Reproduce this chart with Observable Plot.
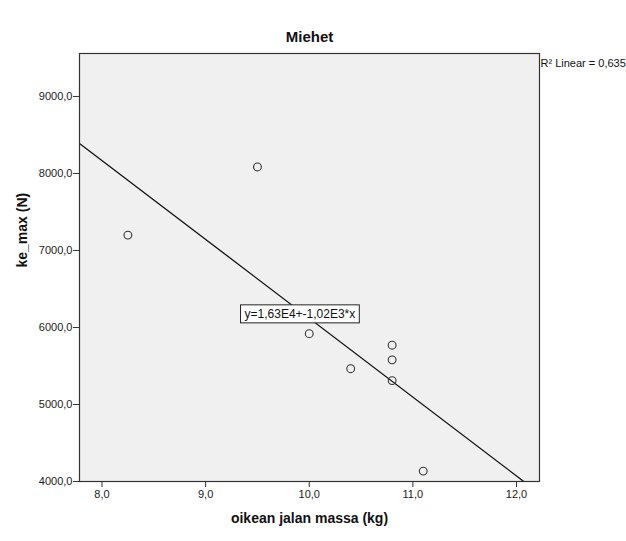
<!DOCTYPE html>
<html>
<head>
<meta charset="utf-8">
<script src="https://cdn.jsdelivr.net/npm/d3@7"></script>
<script src="https://cdn.jsdelivr.net/npm/@observablehq/plot@0.6"></script>
<style>
  body { margin: 0; background: #fff; }
  svg { font-family: "Liberation Sans", Arial, sans-serif; }
</style>
</head>
<body>
<div id="chart"></div>
<script>
// Data
const massKg = [8.25, 9.5, 10.0, 10.4, 10.8, 10.8, 10.8, 11.1];
const keMaxN = [7200, 8085, 5920, 5465, 5770, 5580, 5310, 4135];
const fitIntercept = 16360;   // shown as 1,63E4
const fitSlope = -1024;       // shown as -1,02E3
const xTicks = [8, 9, 10, 11, 12];
const yTicks = [4000, 5000, 6000, 7000, 8000, 9000];
const xDomain = [7.783, 12.222];
const yDomain = [4000, 9558];
const titleText = "Miehet";
const xLabel = "oikean jalan massa (kg)";
const yLabel = "ke_max (N)";
const r2Text = "R² Linear = 0,635";
const eqText = "y=1,63E4+-1,02E3*x";
const eqPos = [{x: 9.91, y: 6175}];

const points = massKg.map((m, i) => ({x: m, y: keMaxN[i]}));
const fitLine = xDomain.map(x => ({x, y: fitIntercept + fitSlope * x}));
const fmt = d => d.toFixed(1).replace(".", ",");

const chart = Plot.plot({
  width: 626,
  height: 541,
  marginLeft: 79,
  marginRight: 87,
  marginTop: 53,
  marginBottom: 60,
  style: {fontFamily: "Liberation Sans, Arial, sans-serif", background: "#fff", color: "#222"},
  x: {domain: xDomain, label: null},
  y: {domain: yDomain, label: null},
  marks: [
    Plot.frame({fill: "#f0f0f0", stroke: null}),
    Plot.axisX({ticks: xTicks, tickFormat: fmt, tickSize: 6, tickPadding: 3, fontSize: 11, stroke: "#333", fill: "#222"}),
    Plot.axisY({ticks: yTicks, tickFormat: fmt, tickSize: 6, tickPadding: 1, fontSize: 11, stroke: "#333", fill: "#222"}),
    Plot.line(fitLine, {x: "x", y: "y", stroke: "#111", strokeWidth: 1.3, clip: true}),
    Plot.dot(points, {x: "x", y: "y", r: 3.9, stroke: "#333", strokeWidth: 1.1, fill: "none"}),
    Plot.text(eqPos, {x: "x", y: "y", text: () => eqText, fontSize: 12, fill: "#111", className: "eqlabel"}),
    Plot.frame({stroke: "#333", strokeWidth: 1.2}),
    Plot.text([titleText], {frameAnchor: "top", dy: -16, lineAnchor: "middle", fontSize: 15, fontWeight: "bold", fill: "#111"}),
    Plot.text([xLabel], {frameAnchor: "bottom", dy: 37, lineAnchor: "middle", fontSize: 14, fontWeight: "bold", fill: "#111"}),
    Plot.text([yLabel], {frameAnchor: "left", dx: -57, rotate: -90, lineAnchor: "middle", fontSize: 14, fontWeight: "bold", fill: "#111"}),
    Plot.text([r2Text], {frameAnchor: "top-right", dx: 1, dy: 10, textAnchor: "start", lineAnchor: "middle", fontSize: 11, fill: "#111"})
  ]
});
document.getElementById("chart").appendChild(chart);

// box around the equation label
const g = chart.querySelector("g.eqlabel");
if (g) {
  const t = g.querySelector("text");
  const b = t.getBBox();
  const rect = document.createElementNS("http://www.w3.org/2000/svg", "rect");
  rect.setAttribute("x", b.x - 4);
  rect.setAttribute("y", b.y - 2);
  rect.setAttribute("width", b.width + 8);
  rect.setAttribute("height", b.height + 4);
  rect.setAttribute("fill", "#fff");
  rect.setAttribute("stroke", "#222");
  rect.setAttribute("stroke-width", "1");
  if (t.getAttribute("transform")) rect.setAttribute("transform", t.getAttribute("transform"));
  g.insertBefore(rect, t);
}
</script>
</body>
</html>
